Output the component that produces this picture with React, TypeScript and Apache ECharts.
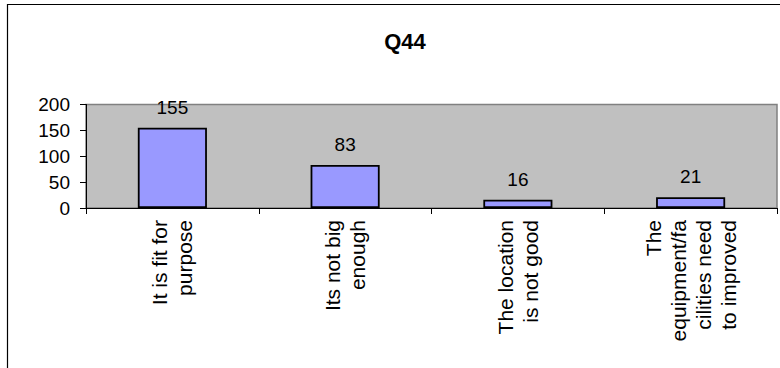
import React, { useEffect, useRef } from "react";
import * as echarts from "echarts";

const titleText = "Q44";
const categories = [
  "It is fit for\npurpose",
  "Its not big\nenough",
  "The location\nis not good",
  "The\nequipment/fa\ncilities need\nto improved",
];
const values = [155, 83, 16, 21];
const yMin = 0;
const yMax = 200;
const yInterval = 50;

const FONT = "'Liberation Sans', Arial, sans-serif";
const CAT_FONT_SIZE = 21;

function measure(text: string, size: number): number {
  const c = document.createElement("canvas");
  const ctx = c.getContext("2d");
  if (!ctx) return text.length * size * 0.5;
  ctx.font = `${size}px 'Liberation Sans', Arial, sans-serif`;
  return Math.max(...text.split("\n").map((l) => ctx.measureText(l).width));
}

export default function App() {
  const ref = useRef<HTMLDivElement>(null);
  useEffect(() => {
    if (!ref.current) return;
    const widths = categories.map((c) => measure(c, CAT_FONT_SIZE));
    const total = Math.ceil(Math.max(...widths)) + 2;
    const catData = categories.map((c, i) => ({
      value: c,
      textStyle: { padding: [0, 0, 8, total - widths[i]] },
    }));
    const chart = echarts.init(ref.current, undefined, { renderer: "svg" });
    chart.setOption({
      animation: false,
      backgroundColor: "#ffffff",
      textStyle: { fontFamily: FONT, color: "#000" },
      graphic: [
        {
          type: "rect",
          shape: { x: 7.5, y: 4.5, width: 820, height: 420 },
          style: { fill: "none", stroke: "#000", lineWidth: 1.2 },
          silent: true,
          z: 100,
        },
        {
          type: "text",
          x: 405,
          y: 41,
          style: {
            text: titleText,
            fontFamily: FONT,
            fontWeight: "bold",
            fontSize: 22,
            fill: "#000",
            align: "center",
            verticalAlign: "middle",
          },
        },
      ],
      grid: {
        left: 86,
        right: 3,
        top: 104.5,
        bottom: 160,
        show: true,
        backgroundColor: "#C0C0C0",
        borderColor: "#808080",
        borderWidth: 1.5,
        containLabel: false,
        outerBoundsMode: "none",
      },
      xAxis: {
        type: "category",
        data: catData,
        axisLine: { show: true, lineStyle: { color: "#000", width: 1 } },
        axisTick: {
          show: true,
          alignWithLabel: false,
          length: 6,
          lineStyle: { color: "#000", width: 1 },
        },
        axisLabel: {
          rotate: 90,
          interval: 0,
          margin: 12,
          align: "center",
          verticalAlign: "middle",
          fontFamily: FONT,
          fontSize: CAT_FONT_SIZE,
          lineHeight: 25,
          color: "#000",
        },
        splitLine: { show: false },
      },
      yAxis: {
        type: "value",
        min: yMin,
        max: yMax,
        interval: yInterval,
        axisLine: { show: true, lineStyle: { color: "#000", width: 1 } },
        axisTick: {
          show: true,
          inside: false,
          length: 6,
          lineStyle: { color: "#000", width: 1 },
        },
        axisLabel: {
          margin: 16,
          fontFamily: FONT,
          fontSize: 19,
          color: "#000",
        },
        splitLine: { show: false },
      },
      series: [
        {
          type: "bar",
          data: values,
          barWidth: "40%",
          itemStyle: {
            color: "#9999FF",
            borderColor: "#000",
            borderWidth: 1.8,
          },
          label: {
            show: true,
            position: "top",
            distance: 11,
            fontFamily: FONT,
            fontSize: 19,
            color: "#000",
          },
        },
      ],
    });
    return () => chart.dispose();
  }, []);
  return (
    <div
      ref={ref}
      style={{ position: "absolute", left: 0, top: 0, width: 780, height: 368 }}
    />
  );
}
